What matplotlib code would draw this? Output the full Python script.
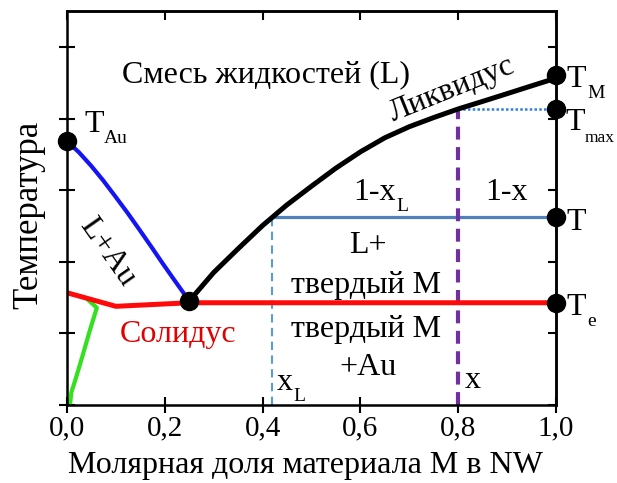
import matplotlib
matplotlib.use("Agg")
import matplotlib.pyplot as plt
from matplotlib.ticker import FixedLocator, FuncFormatter

plt.rcParams['font.family'] = ['Liberation Serif', 'DejaVu Serif']

# --- phase diagram data (x: molar fraction of M, y: temperature, arb. units) ---
liq_au_x = [0.0, 0.0245, 0.049, 0.0736, 0.098, 0.1227, 0.147, 0.1718, 0.196, 0.221, 0.25]
liq_au_y = [3.69, 3.533, 3.348, 3.144, 2.924, 2.697, 2.463, 2.219, 1.976, 1.733, 1.455]

liq_m_x = [0.25, 0.30, 0.35, 0.40, 0.45, 0.50, 0.55, 0.60, 0.65, 0.70, 0.75,
           0.80, 0.85, 0.90, 0.95, 0.988, 1.0]
liq_m_y = [1.455, 1.853, 2.186, 2.51, 2.80, 3.06, 3.313, 3.54, 3.737, 3.892, 4.02,
           4.14, 4.246, 4.354, 4.463, 4.545, 4.615]

solidus_x = [0.0, 0.10, 0.25, 1.0]
solidus_y = [1.57, 1.38, 1.43, 1.43]

solvus_x = [0.006, 0.009, 0.017, 0.031, 0.047, 0.061, 0.043]
solvus_y = [0.0, 0.18, 0.35, 0.67, 1.05, 1.36, 1.47]

T_au = 3.69
T_m = 4.615
T_max = 4.14
T_cur = 2.63
T_e = 1.43
x_eut, T_eut = 0.25, 1.455
x_L = 0.42
x_0 = 0.80

x_ticks = [0.0, 0.2, 0.4, 0.6, 0.8, 1.0]
y_ticks = [0, 1, 2, 3, 4, 5]

FS = 23
SUB = 14
TICK_FS = 21

fig = plt.figure(figsize=(6.17, 4.83), dpi=100)
ax = fig.add_axes([67 / 617, 1 - 405 / 483, (556 - 67) / 617, (405 - 11) / 483])
ax.set_xlim(0, 1)
ax.set_ylim(0, 5.51)

line_kw = dict(solid_capstyle='round', solid_joinstyle='round')

# curves
ax.plot(liq_au_x, liq_au_y, color='#1414f5', lw=3.0, zorder=3, **line_kw)
ax.plot(liq_m_x, liq_m_y, color='black', lw=3.6, zorder=3, **line_kw)
ax.plot(solvus_x, solvus_y, color='#35e020', lw=3.0, zorder=2, **line_kw)
ax.plot(solidus_x, solidus_y, color='#ff0a0a', lw=3.6, zorder=2.5, **line_kw)

# tie line at T and construction lines
ax.plot([x_L, 1.0], [T_cur, T_cur], color='#4f81bd', lw=2.3, zorder=2)
ax.plot([x_L, x_L], [0, T_cur], color='#5b9bd5', lw=1.5, dashes=(4, 2.6), zorder=2)
ax.plot([x_0, x_0], [0, T_max], color='#7030a0', lw=3.0, dashes=(3.1, 1.8), zorder=2)
ax.plot([x_0, 1.0], [T_max, T_max], color='#2f7fe0', lw=1.8, dashes=(1, 0.9), zorder=2)

# marked points
pts_x = [0.0, x_eut, 1.0, 1.0, 1.0, 1.0]
pts_y = [T_au, T_eut, T_m, T_max, T_cur, T_e]
ax.plot(pts_x, pts_y, 'o', color='black', ms=13, clip_on=False, zorder=5, lw=0)

# region labels
ax.text(0.407, 4.52, 'Смесь жидкостей (L)', fontsize=FS, ha='center', va='baseline')
ax.text(0.787, 4.405, 'Ликвидус', fontsize=FS, ha='center', va='center',
        rotation=22, rotation_mode='anchor')
ax.text(0.082, 2.14, 'L+Au', fontsize=FS, ha='center', va='center',
        rotation=-55, rotation_mode='anchor')
ax.text(0.227, 0.88, 'Солидус', fontsize=FS, ha='center', va='baseline', color='#e00000')
ax.text(0.615, 2.13, 'L+', fontsize=FS, ha='center', va='baseline')
ax.text(0.612, 1.57, 'твердый М', fontsize=FS, ha='center', va='baseline')
ax.text(0.612, 0.95, 'твердый М', fontsize=FS, ha='center', va='baseline')
ax.text(0.615, 0.42, '+Au', fontsize=FS, ha='center', va='baseline')
ax.text(0.855, 2.87, '1-x', fontsize=FS, ha='left', va='baseline')
ax.text(0.814, 0.24, 'x', fontsize=FS, ha='left', va='baseline')


def sub_label(x, y, main, sub, sub_size=SUB, dx=0.5):
    t = ax.text(x, y, main, fontsize=FS, ha='left', va='baseline', clip_on=False)
    ax.annotate(sub, xy=(1, 0), xycoords=t, xytext=(dx, -3.0),
                textcoords='offset points', fontsize=sub_size, ha='left', va='baseline',
                annotation_clip=False)
    return t


sub_label(0.585, 2.87, '1-x', 'L')
sub_label(0.429, 0.21, 'x', 'L')
sub_label(0.035, 3.82, 'T', 'Au')

# temperature labels on the right
sub_label(1.022, 4.45, 'T', 'M')
sub_label(1.020, 3.84, 'T', 'max', sub_size=12.5, dx=-0.5)
ax.text(1.022, 2.45, 'T', fontsize=FS, ha='left', va='baseline', clip_on=False)
sub_label(1.022, 1.26, 'T', 'e')

# axes styling
for s in ax.spines.values():
    s.set_linewidth(1.8)
ax.xaxis.set_major_locator(FixedLocator(x_ticks))
ax.yaxis.set_major_locator(FixedLocator(y_ticks))
ax.xaxis.set_major_formatter(FuncFormatter(lambda v, p: f'{v:.1f}'.replace('.', ',')))
ax.yaxis.set_major_formatter(FuncFormatter(lambda v, p: ''))
ax.tick_params(axis='both', direction='inout', length=11, width=1.5,
               labelsize=TICK_FS, pad=2)

top = ax.secondary_xaxis('top')
top.set_xticks(x_ticks)
top.tick_params(direction='in', length=6.5, width=1.5, labeltop=False)
right = ax.secondary_yaxis('right')
right.set_yticks(y_ticks)
right.tick_params(direction='in', length=6, width=1.5, labelright=False)
for sec in (top, right):
    for s in sec.spines.values():
        s.set_linewidth(1.8)

fig.text(306 / 617, 1 - 466 / 483, 'Молярная доля материала М в NW', fontsize=FS,
         ha='center', va='center')
fig.text(29 / 617, 1 - 215 / 483, 'Температура', fontsize=25, ha='center',
         va='center', rotation=90)

fig.savefig('out.png', dpi=100)
